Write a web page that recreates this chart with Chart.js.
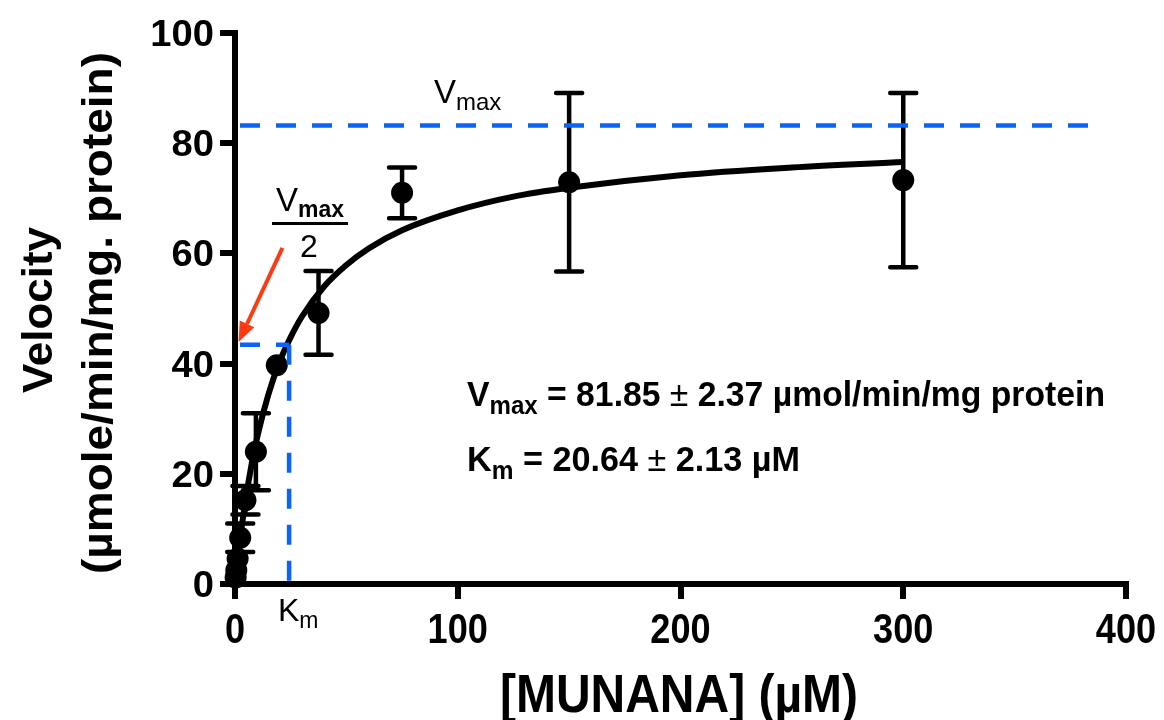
<!DOCTYPE html>
<html>
<head>
<meta charset="utf-8">
<script src="https://cdn.jsdelivr.net/npm/chart.js@4.4.1/dist/chart.umd.min.js"></script>
<style>
  html, body { margin: 0; padding: 0; background: #fff; }
  #wrap { width: 1164px; height: 720px; position: relative; }
</style>
</head>
<body>
<div id="wrap"><canvas id="c" width="1164" height="720"></canvas></div>
<script>
// MUNANA concentration series (µM) with mean velocity and SEM
const concentrations = [0.293, 0.586, 1.17, 2.34, 4.69, 9.375, 18.75, 37.5, 75, 150, 300];
const velocities     = [1.2, 2.5, 4.6, 8.4, 15.2, 24.0, 39.7, 49.2, 71.0, 72.9, 73.3];
const errors         = [0.6, 0.8, 1.3, 2.6, 2.6, 7.0, 1.0, 7.6, 4.6, 16.2, 15.8];

// Michaelis–Menten fit curve
const fitX = [0, 1, 2.5, 5, 7.5, 10, 15, 20, 25, 30, 40, 50, 60, 75, 100, 125, 150, 200, 250, 300];
const fitY = [0, 3.8, 8.8, 15.9, 21.8, 26.7, 34.4, 40.3, 44.8, 48.5, 54.0, 57.9, 60.9, 64.2, 67.8, 70.3, 71.9, 74.2, 75.6, 76.6];

// Guide lines for Vmax, Vmax/2 and Km
const vmaxLevel = 83.2;
const vmaxLineEnd = 384;
const halfVmaxLevel = 43.4;
const kmLevel = 24.3;

// Arrow pointing at Vmax/2 on the velocity axis
const arrowFrom = { x: 21.3, y: 61.0 };
const arrowTo = { x: 1.6, y: 43.9 };

// Axis ticks
const xTicks = [0, 100, 200, 300, 400];
const yTicks = [0, 20, 40, 60, 80, 100];

const BLUE = '#0a64f5';
const RED = '#ff3a12';
const FONT = '"Liberation Sans", Arial, Helvetica, sans-serif';
const MARKER_RADIUS = 11;

function richText(ctx, x, y, parts, opts) {
  opts = opts || {};
  ctx.save();
  let total = 0;
  parts.forEach(p => {
    ctx.font = `${p.weight || 'bold'} ${p.size}px ${FONT}`;
    p.w = ctx.measureText(p.text).width;
    total += p.w;
  });
  const sx = opts.width ? opts.width / total : (opts.sx || 1);
  ctx.translate(x, y);
  if (opts.rotate) ctx.rotate(opts.rotate);
  ctx.scale(sx, 1);
  let cx = opts.align === 'center' ? -total / 2 : (opts.align === 'right' ? -total : 0);
  ctx.textBaseline = opts.baseline || 'alphabetic';
  ctx.textAlign = 'left';
  ctx.fillStyle = opts.color || '#000';
  parts.forEach(p => {
    ctx.font = `${p.weight || 'bold'} ${p.size}px ${FONT}`;
    ctx.fillText(p.text, cx, p.dy || 0);
    cx += p.w;
  });
  ctx.restore();
}

// Error bars with caps, drawn under the markers; bars shorter than the marker are hidden
const errorBars = {
  id: 'errorBars',
  beforeDatasetDraw(chart, args) {
    if (args.index !== 4) return;
    const { ctx, scales: { x, y } } = chart;
    ctx.save();
    ctx.strokeStyle = '#000';
    ctx.lineWidth = 4.5;
    ctx.lineCap = 'round';
    concentrations.forEach((c, i) => {
      const px = x.getPixelForValue(c);
      const top = y.getPixelForValue(velocities[i] + errors[i]);
      const bot = y.getPixelForValue(velocities[i] - errors[i]);
      if ((bot - top) / 2 < MARKER_RADIUS) return;
      ctx.beginPath();
      ctx.moveTo(px, top); ctx.lineTo(px, bot);
      ctx.moveTo(px - 13, top); ctx.lineTo(px + 13, top);
      ctx.moveTo(px - 13, bot); ctx.lineTo(px + 13, bot);
      ctx.stroke();
    });
    ctx.restore();
  }
};

// Tick labels, axis titles and annotations
const labels = {
  id: 'labels',
  afterDraw(chart) {
    const { ctx, scales: { x, y } } = chart;

    yTicks.forEach(v => {
      richText(ctx, 214, y.getPixelForValue(v) + 13, [{ text: String(v), size: 36 }], { align: 'right', sx: 1.06 });
    });
    xTicks.forEach(v => {
      richText(ctx, x.getPixelForValue(v), 643, [{ text: String(v), size: 42 }], { align: 'center', sx: 0.86 });
    });

    // axis titles
    richText(ctx, 52, 310, [{ text: 'Velocity', size: 42 }], { align: 'center', rotate: -Math.PI / 2, width: 166 });
    richText(ctx, 112, 313, [{ text: '(µmole/min/mg. protein)', size: 42 }], { align: 'center', rotate: -Math.PI / 2, width: 522 });
    richText(ctx, 679, 712, [{ text: '[MUNANA] (µM)', size: 54 }], { align: 'center', width: 358 });

    // guide-line labels
    richText(ctx, 434, 103, [
      { text: 'V', size: 33, weight: 'normal' },
      { text: 'max', size: 24, weight: 'normal', dy: 7 }
    ]);
    richText(ctx, 276, 211, [
      { text: 'V', size: 33, weight: 'normal' },
      { text: 'max', size: 23, weight: 'bold', dy: 6 }
    ]);
    ctx.save();
    ctx.fillStyle = '#000';
    ctx.fillRect(272, 222, 76, 3);
    ctx.restore();
    richText(ctx, 309, 257, [{ text: '2', size: 32, weight: 'normal' }], { align: 'center' });
    richText(ctx, 278, 621, [
      { text: 'K', size: 32, weight: 'normal' },
      { text: 'm', size: 23, weight: 'normal', dy: 7 }
    ]);

    // kinetic constants
    richText(ctx, 467, 406, [
      { text: 'V', size: 35 },
      { text: 'max', size: 25, dy: 8 },
      { text: ' = 81.85 ', size: 35 },
      { text: '±', size: 35, weight: 'normal' },
      { text: ' 2.37 µmol/min/mg protein', size: 35 }
    ], { width: 638 });
    richText(ctx, 467, 471, [
      { text: 'K', size: 35 },
      { text: 'm', size: 25, dy: 8 },
      { text: ' = 20.64 ', size: 35 },
      { text: '±', size: 35, weight: 'normal' },
      { text: ' 2.13 µM', size: 35 }
    ], { width: 333 });

    // arrow
    const x0 = x.getPixelForValue(arrowFrom.x), y0 = y.getPixelForValue(arrowFrom.y);
    const x1 = x.getPixelForValue(arrowTo.x), y1 = y.getPixelForValue(arrowTo.y);
    const ang = Math.atan2(y1 - y0, x1 - x0);
    const head = 20, half = 8;
    const bx = x1 - head * Math.cos(ang), by = y1 - head * Math.sin(ang);
    ctx.save();
    ctx.strokeStyle = RED; ctx.fillStyle = RED; ctx.lineWidth = 4;
    ctx.beginPath(); ctx.moveTo(x0, y0); ctx.lineTo(bx, by); ctx.stroke();
    ctx.beginPath();
    ctx.moveTo(x1, y1);
    ctx.lineTo(bx + half * Math.sin(ang), by - half * Math.cos(ang));
    ctx.lineTo(bx - half * Math.sin(ang), by + half * Math.cos(ang));
    ctx.closePath(); ctx.fill();
    ctx.restore();
  }
};

const axisCommon = {
  type: 'linear',
  border: { display: true, color: '#000', width: 6 },
  grid: { drawOnChartArea: false, drawTicks: true, tickLength: 15, tickWidth: 6, lineWidth: 6, color: '#000', tickColor: '#000' },
  ticks: { display: false },
  title: { display: false }
};

new Chart(document.getElementById('c'), {
  type: 'scatter',
  data: {
    datasets: [
      {
        data: [{ x: 0, y: vmaxLevel }, { x: vmaxLineEnd, y: vmaxLevel }],
        showLine: true, borderColor: BLUE, borderWidth: 4.5,
        borderDash: [20, 16], borderDashOffset: 31, pointRadius: 0, clip: false
      },
      {
        data: [{ x: 0, y: halfVmaxLevel }, { x: kmLevel, y: halfVmaxLevel }],
        showLine: true, borderColor: BLUE, borderWidth: 4.5,
        borderDash: [20, 16], borderDashOffset: 31, pointRadius: 0, clip: false
      },
      {
        data: [{ x: kmLevel, y: halfVmaxLevel }, { x: kmLevel, y: 0 }],
        showLine: true, borderColor: BLUE, borderWidth: 4.5,
        borderDash: [20, 16], borderDashOffset: 0, pointRadius: 0, clip: false
      },
      {
        data: fitX.map((v, i) => ({ x: v, y: fitY[i] })),
        showLine: true, borderColor: '#000', borderWidth: 6,
        cubicInterpolationMode: 'monotone', pointRadius: 0, clip: false
      },
      {
        data: concentrations.map((v, i) => ({ x: v, y: velocities[i] })),
        showLine: false, pointRadius: MARKER_RADIUS, pointHoverRadius: MARKER_RADIUS,
        backgroundColor: '#000', borderColor: '#000', borderWidth: 0, clip: false
      }
    ]
  },
  options: {
    responsive: false,
    animation: false,
    events: [],
    layout: { padding: { top: 33, right: 38, left: 0, bottom: 0 } },
    plugins: { legend: { display: false }, tooltip: { enabled: false } },
    scales: {
      x: Object.assign({}, axisCommon, {
        min: 0, max: 400,
        afterBuildTicks: s => { s.ticks = xTicks.map(v => ({ value: v })); },
        afterFit: s => { s.height = 136; }
      }),
      y: Object.assign({}, axisCommon, {
        min: 0, max: 100,
        afterBuildTicks: s => { s.ticks = yTicks.map(v => ({ value: v })); },
        afterFit: s => { s.width = 235; }
      })
    }
  },
  plugins: [errorBars, labels]
});
</script>
</body>
</html>
